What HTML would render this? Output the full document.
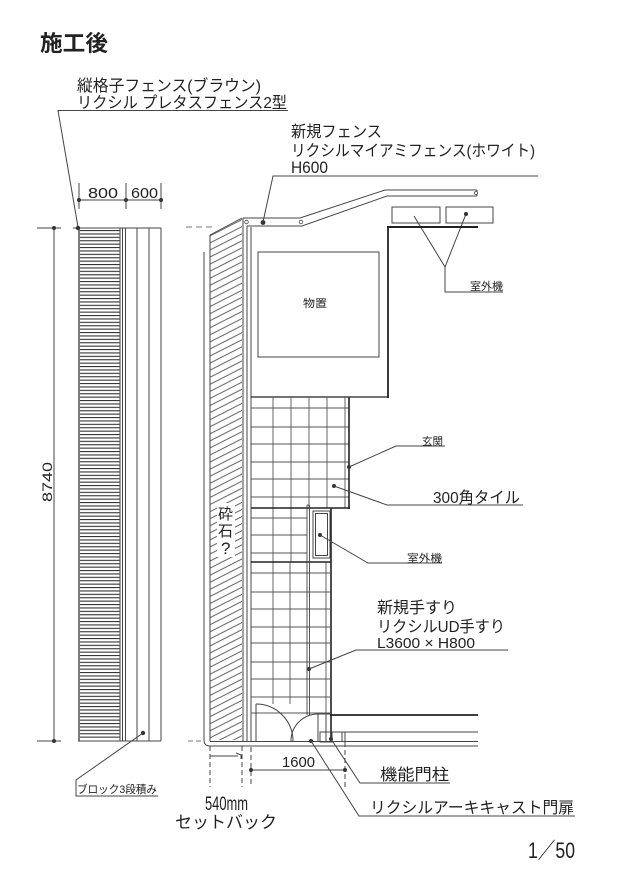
<!DOCTYPE html>
<html><head><meta charset="utf-8"><style>
html,body{margin:0;padding:0;background:#fff;}
svg{display:block;}
text{font-family:"Liberation Sans","Noto Sans CJK JP",sans-serif;fill:#222;}
</style></head><body>
<svg width="620" height="877" viewBox="0 0 620 877" xmlns="http://www.w3.org/2000/svg">
<defs>
<pattern id="slat" patternUnits="userSpaceOnUse" x="0" y="230" width="60" height="3.4"><rect x="0" y="0" width="60" height="1.1" fill="#333"/></pattern>
<pattern id="hatch" patternUnits="userSpaceOnUse" width="20" height="6.3" patternTransform="rotate(-27)"><line x1="0" y1="3.1" x2="20" y2="3.1" stroke="#444" stroke-width="0.9"/></pattern>
</defs>
<rect width="620" height="877" fill="#fff"/>

<!-- Title -->
<text x="40" y="51" font-size="22" font-weight="bold" textLength="68" lengthAdjust="spacingAndGlyphs" fill="#333">施工後</text>

<!-- Label fence left -->
<text x="77" y="91" font-size="16" textLength="184" lengthAdjust="spacingAndGlyphs">縦格子フェンス(ブラウン)</text>
<text x="77" y="108" font-size="16" textLength="210" lengthAdjust="spacingAndGlyphs">リクシル プレタスフェンス2型</text>
<g stroke="#444" stroke-width="1" fill="none">
<polyline points="288,110.5 58,110.5 78,227"/>
</g>

<!-- 800 / 600 dimension -->
<g stroke="#444" stroke-width="1" fill="none">
<line x1="79" y1="200" x2="161" y2="200"/>
<line x1="79" y1="183" x2="79" y2="209"/>
<line x1="126" y1="183" x2="126" y2="209"/>
<line x1="161" y1="183" x2="161" y2="209"/>
</g>
<circle cx="79" cy="200" r="2" fill="#333"/>
<circle cx="126" cy="200" r="2" fill="#333"/>
<circle cx="161" cy="200" r="2" fill="#333"/>
<text x="88" y="198" font-size="15" textLength="30" lengthAdjust="spacingAndGlyphs">800</text>
<text x="131" y="198" font-size="15" textLength="27" lengthAdjust="spacingAndGlyphs">600</text>

<!-- 8740 dimension -->
<g stroke="#444" stroke-width="1" fill="none">
<line x1="54" y1="228" x2="54" y2="741"/>
<line x1="37" y1="228" x2="61" y2="228"/>
<line x1="37" y1="741" x2="61" y2="741"/>
</g>
<circle cx="54" cy="228" r="2" fill="#333"/>
<circle cx="54" cy="741" r="2" fill="#333"/>
<text transform="translate(52,502) rotate(-90)" font-size="14" textLength="40" lengthAdjust="spacingAndGlyphs">8740</text>

<!-- Left fence column -->
<rect x="80" y="229" width="40" height="511" fill="url(#slat)"/>
<g stroke="#444" stroke-width="1" fill="none">
<line x1="73" y1="228" x2="161" y2="228"/>
<line x1="78" y1="741" x2="161" y2="741"/>
<line x1="79" y1="228" x2="79" y2="741" stroke-width="1.4"/>
<line x1="120" y1="228" x2="120" y2="741"/>
<line x1="122.5" y1="228" x2="122.5" y2="741"/>
<line x1="125.5" y1="228" x2="125.5" y2="741"/>
<line x1="137" y1="228" x2="137" y2="741"/>
<line x1="149" y1="228" x2="149" y2="741"/>
<line x1="161" y1="228" x2="161" y2="741"/>
</g>
<circle cx="78" cy="228" r="2.2" fill="#333"/>
<circle cx="143" cy="733" r="2.2" fill="#333"/>
<polyline points="143,733 76,780 76,796 158,796" stroke="#444" stroke-width="1" fill="none"/>
<text x="77" y="793" font-size="11" textLength="80" lengthAdjust="spacingAndGlyphs">ブロック3段積み</text>

<!-- Gravel hatch strip -->
<polygon points="210,235 242,218 242,740 210,740" fill="url(#hatch)"/>
<g stroke="#444" stroke-width="1" fill="none">
<line x1="210" y1="235" x2="242" y2="218" stroke-width="0.9"/>
<line x1="210" y1="235" x2="210" y2="741"/>
<path d="M204,252 L204,740 Q204,746 210,746 L478,746"/>
<line x1="210" y1="741.5" x2="478" y2="741.5"/>
<line x1="186" y1="227" x2="212" y2="227" stroke-dasharray="6,4" stroke="#777"/>
<line x1="188" y1="741" x2="203" y2="741" stroke-dasharray="5,3" stroke="#777"/>
</g>
<rect x="217" y="503" width="18" height="54" fill="#fff"/>
<text x="218" y="519" font-size="15" textLength="15" lengthAdjust="spacingAndGlyphs">砕</text>
<text x="218" y="536" font-size="15" textLength="15" lengthAdjust="spacingAndGlyphs">石</text>
<text x="221" y="554" font-size="17">?</text>

<!-- Wall lines -->
<g stroke="#444" stroke-width="1" fill="none">
<line x1="243" y1="218" x2="243" y2="742"/>
<line x1="247" y1="226" x2="247" y2="742"/>
<line x1="251" y1="227" x2="251" y2="742"/>
</g>

<!-- New fence top -->
<g stroke="#444" stroke-width="1" fill="none">
<polyline points="243,218 300,218 385,190 477,190"/>
<polyline points="247,226 302,226 387,196 477,196"/>
<line x1="477" y1="190" x2="477" y2="196"/>
</g>
<circle cx="246.5" cy="222" r="1.8" fill="#fff" stroke="#444" stroke-width="0.8"/>
<circle cx="301" cy="222" r="1.8" fill="#fff" stroke="#444" stroke-width="0.8"/>
<circle cx="476" cy="193" r="1.5" fill="#fff" stroke="#444" stroke-width="0.8"/>
<circle cx="263" cy="222.5" r="2.4" fill="#333"/>
<polyline points="263,222 273,176 538,176" stroke="#444" stroke-width="1" fill="none"/>
<text x="291" y="137" font-size="16" textLength="91" lengthAdjust="spacingAndGlyphs">新規フェンス</text>
<text x="291" y="156" font-size="16" textLength="244" lengthAdjust="spacingAndGlyphs">リクシルマイアミフェンス(ホワイト)</text>
<text x="291" y="173" font-size="17" textLength="37" lengthAdjust="spacingAndGlyphs">H600</text>

<!-- Outdoor units top -->
<g stroke="#444" stroke-width="1" fill="none">
<rect x="392" y="207" width="48" height="16"/>
<rect x="446" y="207" width="47" height="16"/>
<polyline points="414,216 445,267 466,214"/>
<polyline points="445,267 445,292 503,292"/>
</g>
<circle cx="466" cy="214" r="2" fill="#333"/>
<text x="470" y="290" font-size="11" textLength="33" lengthAdjust="spacingAndGlyphs">室外機</text>

<!-- Building -->
<g stroke="#222" fill="none">
<line x1="387" y1="227" x2="478" y2="227" stroke-width="2"/>
<line x1="388" y1="226" x2="388" y2="398" stroke-width="1.8"/>
<line x1="251" y1="397" x2="388" y2="397" stroke-width="1.2"/>
</g>
<rect x="258" y="252" width="121" height="105" fill="none" stroke="#444" stroke-width="1"/>
<text x="303" y="307" font-size="11" textLength="24" lengthAdjust="spacingAndGlyphs">物置</text>

<!-- Tile grid upper -->
<g stroke="#555" stroke-width="0.9" fill="none">
<line x1="273" y1="397" x2="273" y2="508"/>
<line x1="291" y1="397" x2="291" y2="508"/>
<line x1="309" y1="397" x2="309" y2="508"/>
<line x1="327" y1="397" x2="327" y2="508"/>
<line x1="345" y1="397" x2="345" y2="508"/>
<line x1="251" y1="408" x2="349" y2="408"/>
<line x1="251" y1="427" x2="349" y2="427"/>
<line x1="251" y1="444" x2="349" y2="444"/>
<line x1="251" y1="462" x2="349" y2="462"/>
<line x1="251" y1="479" x2="349" y2="479"/>
<line x1="251" y1="497" x2="349" y2="497"/>
<!-- middle band -->
<line x1="273" y1="508" x2="273" y2="562"/>
<line x1="291" y1="508" x2="291" y2="562"/>
<line x1="251" y1="518" x2="307" y2="518"/>
<line x1="251" y1="535" x2="307" y2="535"/>
<line x1="251" y1="553" x2="307" y2="553"/>
<!-- lower -->
<line x1="273" y1="562" x2="273" y2="704"/>
<line x1="290" y1="562" x2="290" y2="704"/>
<line x1="326" y1="562" x2="326" y2="742"/>
<line x1="251" y1="573" x2="330" y2="573"/>
<line x1="251" y1="592" x2="330" y2="592"/>
<line x1="251" y1="609" x2="330" y2="609"/>
<line x1="251" y1="627" x2="330" y2="627"/>
<line x1="251" y1="643" x2="330" y2="643"/>
<line x1="251" y1="662" x2="330" y2="662"/>
<line x1="251" y1="679" x2="330" y2="679"/>
<line x1="251" y1="697" x2="330" y2="697"/>
<line x1="251" y1="713" x2="330" y2="713"/>
</g>
<g stroke="#222" fill="none" stroke-width="1.6">
<line x1="349" y1="397" x2="349" y2="509"/>
<line x1="251" y1="508" x2="350" y2="508"/>
<line x1="251" y1="562" x2="331" y2="562"/>
<line x1="331" y1="508" x2="331" y2="742"/>
<line x1="330" y1="715" x2="478" y2="715" stroke-width="1.8"/>
</g>

<!-- Outdoor unit middle -->
<g stroke="#444" stroke-width="1" fill="#fff">
<rect x="313" y="511" width="17" height="47"/>
<rect x="315.5" y="513.5" width="12" height="42" fill="none"/>
</g>

<!-- Handrail -->
<g stroke="#444" stroke-width="0.9" fill="none">
<line x1="307" y1="505" x2="307" y2="715"/>
<line x1="309.5" y1="505" x2="309.5" y2="715"/>
<line x1="307" y1="505" x2="309.5" y2="505"/>
</g>

<!-- Gate & doors -->
<rect x="252" y="715" width="78" height="26" fill="#fff"/>
<g stroke="#444" stroke-width="1" fill="none">
<line x1="256" y1="704" x2="256" y2="742"/>
<path d="M256,704 A37,37 0 0 1 293,741"/>
<line x1="318" y1="714" x2="318" y2="742"/>
<line x1="318" y1="714" x2="330" y2="714"/>
<path d="M318,714 A27,27 0 0 0 291,741"/>
<line x1="326" y1="715" x2="326" y2="742"/>
<rect x="320" y="732" width="12" height="10"/>
<line x1="320" y1="732" x2="478" y2="732"/>
<line x1="342" y1="732" x2="342" y2="742"/>
<line x1="345" y1="732" x2="345" y2="742"/>
</g>

<!-- Labels middle -->
<circle cx="349" cy="467" r="2" fill="#333"/>
<polyline points="349,467 396,446 445,446" stroke="#444" stroke-width="1" fill="none"/>
<text x="422" y="445" font-size="11" textLength="21" lengthAdjust="spacingAndGlyphs">玄関</text>

<circle cx="334" cy="486" r="2" fill="#333"/>
<polyline points="334,486 387,505 523,505" stroke="#444" stroke-width="1" fill="none"/>
<text x="433" y="503" font-size="16" textLength="87" lengthAdjust="spacingAndGlyphs">300角タイル</text>

<circle cx="320" cy="535" r="2" fill="#333"/>
<polyline points="320,535 368,563 442,563" stroke="#444" stroke-width="1" fill="none"/>
<text x="407" y="562" font-size="11" textLength="35" lengthAdjust="spacingAndGlyphs">室外機</text>

<circle cx="309" cy="669" r="2" fill="#333"/>
<polyline points="309,669 356,650 508,650" stroke="#444" stroke-width="1" fill="none"/>
<text x="377" y="613" font-size="16" textLength="80" lengthAdjust="spacingAndGlyphs">新規手すり</text>
<text x="377" y="632" font-size="16" textLength="128" lengthAdjust="spacingAndGlyphs">リクシルUD手すり</text>
<text x="377" y="648" font-size="15" textLength="98" lengthAdjust="spacingAndGlyphs">L3600 × H800</text>

<!-- Bottom labels -->
<circle cx="331" cy="739" r="2" fill="#333"/>
<circle cx="311" cy="741" r="2" fill="#333"/>
<polyline points="331,739 360,783 450,783" stroke="#444" stroke-width="1" fill="none"/>
<polyline points="311,741 359,816 575,816" stroke="#444" stroke-width="1" fill="none"/>
<text x="380" y="780" font-size="16" textLength="69" lengthAdjust="spacingAndGlyphs">機能門柱</text>
<text x="370" y="813" font-size="16" textLength="204" lengthAdjust="spacingAndGlyphs">リクシルアーキキャスト門扉</text>

<!-- 1600 dimension -->
<g stroke="#444" stroke-width="1" fill="none">
<line x1="251" y1="747" x2="251" y2="787" stroke-dasharray="5,3"/>
<line x1="345" y1="742" x2="345" y2="787" stroke-dasharray="5,3"/>
<line x1="251" y1="770" x2="345" y2="770"/>
</g>
<circle cx="251" cy="770" r="2" fill="#333"/>
<circle cx="345" cy="770" r="2" fill="#333"/>
<text x="282" y="767" font-size="15" textLength="33" lengthAdjust="spacingAndGlyphs">1600</text>

<!-- 540 setback -->
<g stroke="#444" stroke-width="1" fill="none">
<line x1="210" y1="746" x2="210" y2="787" stroke-dasharray="5,3"/>
<line x1="242" y1="746" x2="242" y2="787" stroke-dasharray="5,3"/>
<line x1="210" y1="756" x2="238" y2="756"/>
<polyline points="236,753 241,755 241,759"/>
</g>
<text x="205" y="810" font-size="19" textLength="43" lengthAdjust="spacingAndGlyphs">540mm</text>
<text x="175" y="828" font-size="17" textLength="102" lengthAdjust="spacingAndGlyphs">セットバック</text>

<!-- Scale -->
<text x="528" y="858" font-size="22" textLength="47" lengthAdjust="spacingAndGlyphs" fill="#333">1／50</text>
</svg>
</body></html>
